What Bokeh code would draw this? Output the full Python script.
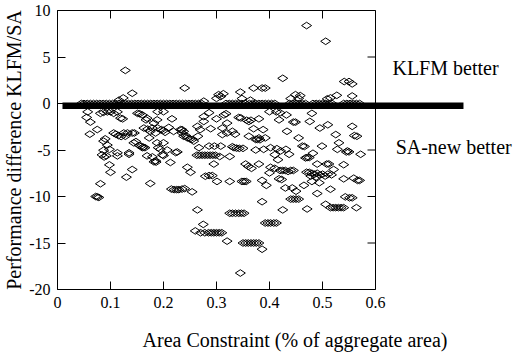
from bokeh.plotting import figure
from bokeh.models import Range1d, FixedTicker, LinearAxis, ColumnDataSource, NumeralTickFormatter
from bokeh.core.properties import value
from bokeh.embed import file_html
from bokeh.resources import INLINE

# ---------------- data ----------------
x_ticks = [0, 0.1, 0.2, 0.3, 0.4, 0.5, 0.6]
y_ticks = [10, 5, 0, -5, -10, -15, -20]

# runs where both algorithms tie (difference 0)
zero_area = [0.045, 0.05, 0.056, 0.062, 0.068, 0.074, 0.08, 0.086, 0.092, 0.098,
             0.104, 0.11, 0.116, 0.122, 0.128, 0.134, 0.14, 0.146, 0.152, 0.158,
             0.164, 0.17, 0.176, 0.182, 0.188, 0.194, 0.2, 0.206, 0.212, 0.218,
             0.224, 0.23, 0.236, 0.242, 0.248, 0.254, 0.26, 0.266, 0.272,
             0.318, 0.324, 0.33, 0.336, 0.342, 0.348, 0.354,
             0.362, 0.368, 0.374, 0.38, 0.386, 0.392, 0.398, 0.404, 0.41,
             0.438, 0.444, 0.45, 0.456, 0.462, 0.468,
             0.482, 0.488, 0.494, 0.5, 0.506, 0.512, 0.518,
             0.54, 0.546, 0.552, 0.558, 0.564, 0.57]

pos_area = [0.128, 0.141, 0.124, 0.116, 0.24, 0.304, 0.313, 0.3, 0.308, 0.276,
            0.345, 0.348, 0.364, 0.37, 0.386, 0.392, 0.47, 0.506, 0.425, 0.541,
            0.55, 0.556, 0.556, 0.527, 0.449, 0.458, 0.455, 0.509, 0.515, 0.44]
pos_diff = [3.56, 1.1, 0.6, 0.36, 1.66, 0.95, 1.05, 0.55, 0.75, 0.25,
            1.23, 0.53, 0.36, 1.66, 1.66, 1.66, 8.38, 6.69, 2.71, 2.36,
            2.36, 2.11, 0.81, 0.88, 0.95, 0.85, 0.55, 0.5, 0.6, 0.53]

a_area = [0.055, 0.057, 0.062, 0.061, 0.075, 0.081, 0.087, 0.094, 0.1, 0.106,
          0.113, 0.119, 0.123, 0.087, 0.09, 0.094, 0.087, 0.084, 0.088, 0.092,
          0.098, 0.098, 0.1, 0.081, 0.072, 0.075, 0.078, 0.106, 0.11, 0.115,
          0.12, 0.125, 0.128, 0.132, 0.141, 0.145, 0.113, 0.113, 0.13, 0.141,
          0.135, 0.135, 0.144, 0.148]
a_diff = [-1.5, -0.9, -2.0, -3.3, -2.8, -1.06, -0.95, -0.9, -0.9, -1.06,
          -0.9, -1.58, -1.65, -4.05, -3.8, -4.47, -5.03, -5.52, -5.75, -5.63,
          -4.93, -6.6, -7.4, -8.63, -10.0, -10.04, -10.1, -3.17, -3.3, -3.45,
          -3.55, -3.17, -3.52, -3.17, -3.17, -3.17, -5.63, -5.3, -7.92, -7.1,
          -5.46, -5.3, -4.23, -4.1]

b_area = [0.151, 0.155, 0.16, 0.169, 0.167, 0.188, 0.189, 0.2, 0.154, 0.158,
          0.162, 0.165, 0.16, 0.169, 0.179, 0.188, 0.19, 0.163, 0.17, 0.179,
          0.175, 0.182, 0.185, 0.189, 0.173, 0.196, 0.2, 0.194, 0.198, 0.185,
          0.182, 0.186, 0.175, 0.216, 0.21, 0.2, 0.203, 0.219, 0.232, 0.235,
          0.238, 0.235, 0.238, 0.242, 0.245, 0.25, 0.207, 0.226, 0.213, 0.2,
          0.223, 0.245, 0.215, 0.22, 0.225, 0.229, 0.235, 0.24]
b_diff = [-1.06, -1.1, -1.23, -1.58, -1.76, -1.76, -0.88, -0.88, -4.5, -4.6,
          -4.7, -4.75, -4.75, -5.63, -5.74, -4.23, -4.75, -2.64, -2.75, -2.64,
          -3.0, -2.11, -3.17, -2.64, -3.7, -2.81, -4.23, -4.93, -5.52, -6.16,
          -6.27, -6.3, -8.6, -1.65, -2.57, -2.9, -3.1, -3.0, -2.81, -2.81,
          -3.0, -3.17, -3.52, -3.45, -3.7, -3.8, -5.0, -5.21, -6.34, -5.6,
          -5.28, -6.86, -9.2, -9.26, -9.26, -9.26, -9.2, -9.15]

c_area = [0.251, 0.254, 0.257, 0.264, 0.26, 0.275, 0.27, 0.278, 0.285, 0.29,
          0.295, 0.3, 0.305, 0.31, 0.32, 0.265, 0.269, 0.276, 0.286, 0.276,
          0.264, 0.289, 0.267, 0.263, 0.268, 0.273, 0.278, 0.283, 0.288, 0.293,
          0.298, 0.286, 0.296, 0.295, 0.279, 0.286, 0.292, 0.301, 0.3, 0.314,
          0.318, 0.32, 0.311, 0.32, 0.311, 0.33, 0.335, 0.308, 0.306, 0.325,
          0.33, 0.333, 0.338, 0.343, 0.325, 0.342, 0.346, 0.325, 0.33, 0.336,
          0.342, 0.347, 0.345, 0.254]
c_diff = [-7.4, -9.5, -4.05, -11.44, -13.7, -13.0, -13.9, -13.9, -13.9, -13.9,
          -13.9, -13.9, -13.9, -13.9, -14.8, -3.52, -2.81, -1.93, -0.99, -1.41,
          -2.46, -2.71, -4.75, -5.56, -5.56, -5.56, -5.56, -5.56, -5.56, -5.56,
          -5.56, -4.58, -4.58, -6.51, -7.82, -7.75, -7.75, -8.38, -1.65, -1.23,
          -1.1, -2.11, -2.64, -3.17, -3.34, -2.99, -3.3, -4.58, -5.7, -5.7,
          -4.65, -4.75, -4.8, -4.82, -8.38, -1.5, -1.55, -11.8, -11.8, -11.8,
          -11.8, -11.8, -18.23, -3.87]

d_area = [0.35, 0.352, 0.357, 0.361, 0.365, 0.38, 0.37, 0.361, 0.374, 0.377,
          0.382, 0.38, 0.388, 0.392, 0.355, 0.36, 0.366, 0.38, 0.374, 0.389,
          0.348, 0.352, 0.356, 0.386, 0.394, 0.386, 0.35, 0.355, 0.36, 0.365,
          0.37, 0.375, 0.38, 0.386, 0.392, 0.397, 0.402, 0.408, 0.413, 0.4,
          0.4, 0.402, 0.402, 0.413, 0.42, 0.418, 0.432, 0.445, 0.449, 0.433,
          0.414, 0.421, 0.431, 0.437, 0.41, 0.416, 0.41, 0.42, 0.425, 0.43,
          0.435, 0.44, 0.445, 0.423, 0.418, 0.43, 0.443, 0.44, 0.445, 0.425]
d_diff = [-4.82, -11.8, -1.8, -1.93, -1.8, -1.65, -2.71, -3.52, -3.87, -3.87,
          -3.9, -3.7, -2.81, -3.7, -6.51, -6.76, -6.97, -6.51, -5.0, -4.93,
          -8.38, -8.38, -8.38, -8.27, -8.8, -10.56, -15.0, -15.0, -15.0, -15.0,
          -15.0, -15.0, -15.0, -15.67, -12.85, -12.85, -12.85, -12.85, -12.85, -0.88,
          -7.46, -6.86, -4.75, -0.9, -1.0, -1.76, -1.23, -2.0, -2.0, -2.99,
          -4.86, -5.1, -4.93, -5.46, -5.5, -6.05, -6.97, -7.2, -7.2, -7.2,
          -7.3, -7.2, -7.2, -8.17, -8.1, -9.08, -9.08, -10.28, -10.28, -11.44]

e_area = [0.45, 0.45, 0.455, 0.455, 0.476, 0.48, 0.495, 0.462, 0.466, 0.471,
          0.475, 0.468, 0.482, 0.499, 0.49, 0.47, 0.475, 0.48, 0.485, 0.49,
          0.495, 0.5, 0.505, 0.51, 0.478, 0.488, 0.465, 0.48, 0.494, 0.49,
          0.471, 0.51, 0.556, 0.565, 0.56, 0.525, 0.531, 0.528, 0.547, 0.545,
          0.55, 0.572, 0.54, 0.508, 0.512, 0.521, 0.517, 0.515, 0.54, 0.559,
          0.566, 0.57, 0.506, 0.515, 0.52, 0.525, 0.53, 0.535, 0.54, 0.543,
          0.551, 0.556, 0.564]
e_diff = [-9.43, -10.28, -10.28, -3.7, -1.93, -1.06, -2.64, -4.58, -4.62, -5.81,
          -5.81, -5.85, -5.35, -4.58, -6.51, -7.39, -7.4, -7.5, -7.6, -7.5,
          -7.7, -7.6, -7.8, -7.6, -7.8, -7.9, -8.8, -8.38, -8.52, -9.68,
          -11.34, -2.29, -2.46, -3.52, -3.45, -3.34, -4.23, -4.93, -5.1, -5.21,
          -5.2, -5.46, -6.58, -6.51, -6.5, -7.1, -7.67, -9.22, -8.1, -8.03,
          -8.27, -8.27, -10.84, -11.2, -11.2, -11.2, -11.2, -11.2, -11.2, -10.04,
          -10.14, -10.14, -11.2]

# separator line and side notes
sep_x = [0.0094, 0.766]
sep_y = -0.24
note_text = ["KLFM better", "SA-new better"]
note_area = [0.632, 0.638]
note_diff = [3.8, -4.73]

# ---------------- figure ----------------
FONT = "Liberation Serif"
X_MAX = 0.6                 # end of the visible x axis
X_VIEW = 475 / 530          # frame runs on to the right page edge
TICK_X = 8 / 530            # tick length in x data units

p = figure(width=532, height=353, output_backend="svg", toolbar_location=None,
           x_range=Range1d(0, X_VIEW), y_range=Range1d(-20, 10),
           min_border_left=57, min_border_right=0, min_border_top=10,
           min_border_bottom=62, outline_line_color=None)
p.xgrid.visible = False
p.ygrid.visible = False

# side notes as a text glyph (frame reaches the page edge)
p.text(x=note_area, y=note_diff, text=note_text, text_font=value(FONT),
       text_font_size="20px", text_baseline="middle", text_align="left", text_color="black")

all_area = zero_area + pos_area + a_area + b_area + c_area + d_area + e_area
all_diff = [0.0] * len(zero_area) + pos_diff + a_diff + b_diff + c_diff + d_diff + e_diff
src = ColumnDataSource(dict(x=all_area, y=all_diff))
p.scatter("x", "y", source=src, marker="diamond", size=10, angle=1.5708,
          fill_color=None, line_color="black", line_width=1)

# thick separator
p.line(sep_x, [sep_y, sep_y], line_color="black", line_width=6.5)

# right border and right ticks of the box
p.segment(x0=[X_MAX], y0=[y_ticks[-1]], x1=[X_MAX], y1=[y_ticks[0]], line_color="black", line_width=1)
p.segment(x0=[X_MAX - TICK_X] * len(y_ticks), y0=y_ticks, x1=[X_MAX] * len(y_ticks), y1=y_ticks,
          line_color="black", line_width=1)

xa = p.xaxis[0]
ya = p.yaxis[0]
xa.ticker = FixedTicker(ticks=x_ticks)
ya.ticker = FixedTicker(ticks=y_ticks)
xa.formatter = NumeralTickFormatter(format="0.[0]")
ya.formatter = NumeralTickFormatter(format="0")
xa.bounds = (0, X_MAX)
for ax in (xa, ya):
    ax.major_tick_in = 8
    ax.major_tick_out = 0
    ax.minor_tick_line_color = None
    ax.major_label_text_font = FONT
    ax.major_label_text_font_size = "16px"
    ax.major_label_text_color = "black"
    ax.axis_label_text_font = FONT
    ax.axis_label_text_font_size = "20px"
    ax.axis_label_text_font_style = "normal"
    ax.axis_label_text_color = "black"
xa.major_label_standoff = 7
ya.major_label_standoff = 7
xa.axis_label = "Area Constraint (% of aggregate area)"
ya.axis_label = "Performance difference KLFM/SA"
xa.axis_label_standoff = 18
ya.axis_label_standoff = 1

# top border: axis with only (unlabelled) minor ticks
top = LinearAxis(ticker=FixedTicker(ticks=[], minor_ticks=x_ticks), bounds=(0, X_MAX))
top.minor_tick_in = 8
top.minor_tick_out = 0
top.minor_tick_line_color = "black"
p.add_layout(top, "above")

open("out.html", "w").write(file_html(p, INLINE))
